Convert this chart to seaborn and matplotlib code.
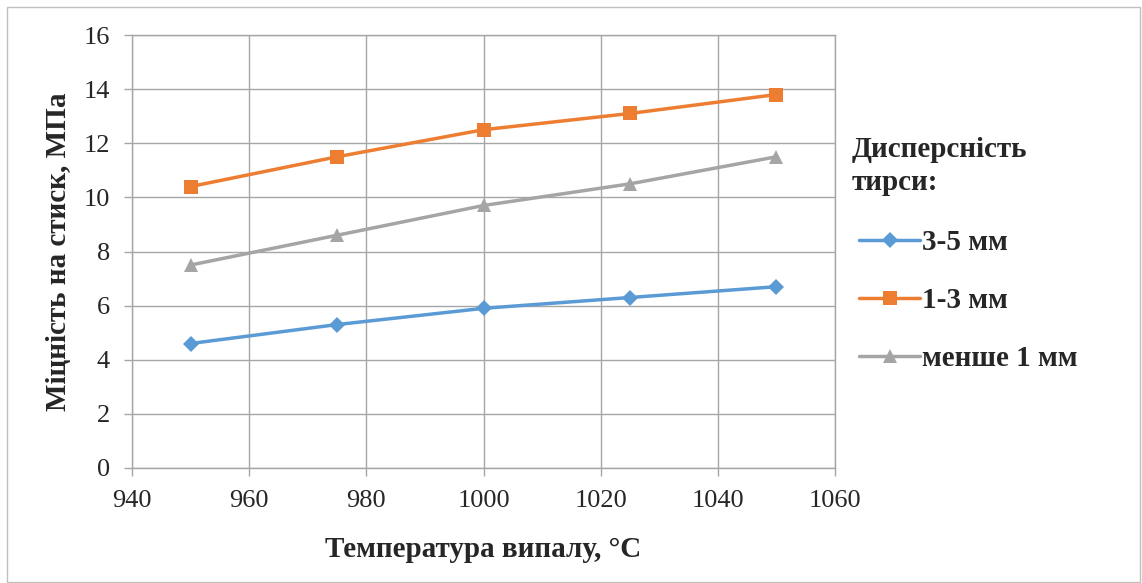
import matplotlib
matplotlib.use("Agg")
import matplotlib.pyplot as plt
import seaborn as sns
import pandas as pd
from matplotlib.patches import Rectangle
from matplotlib.lines import Line2D

temps = [950, 975, 1000, 1025, 1050]
s_35 = [4.6, 5.3, 5.9, 6.3, 6.7]
s_13 = [10.4, 11.5, 12.5, 13.1, 13.8]
s_lt1 = [7.5, 8.6, 9.7, 10.5, 11.5]
series_names = ["3-5 мм", "1-3 мм", "менше 1 мм"]
colors = ["#5B9BD5", "#ED7D31", "#A5A5A5"]
markers = ["D", "s", "^"]
msizes = [8.5, 9.5, 10.5]
x_ticks = [940, 960, 980, 1000, 1020, 1040, 1060]
y_ticks = [0, 2, 4, 6, 8, 10, 12, 14, 16]

sns.set_style("white")
plt.rcParams["font.family"] = ["Liberation Serif", "DejaVu Serif"]

W, H = 1142, 583
df = pd.DataFrame({
    "T": temps * 3,
    "v": s_35 + s_13 + s_lt1,
    "s": [series_names[0]] * 5 + [series_names[1]] * 5 + [series_names[2]] * 5,
})

fig = plt.figure(figsize=(W / 100, H / 100), dpi=100)
ax = fig.add_axes([132 / W, 1 - 468 / H, (835 - 132) / W, (468 - 35) / H])

sns.lineplot(data=df, x="T", y="v", hue="s", style="s", hue_order=series_names,
             style_order=series_names, palette=colors, markers=markers, dashes=False,
             linewidth=2.5, markersize=10, markeredgewidth=0, ax=ax, legend=False)
for line, ms in zip(ax.lines, msizes):
    line.set_markersize(ms)

ax.set_xlim(940, 1060)
ax.set_ylim(0, 16)
ax.set_xticks(x_ticks)
ax.set_yticks(y_ticks)
ax.grid(True, color="#A6A6A6", linewidth=1.0)
ax.set_axisbelow(True)
for side in ["left", "bottom", "top", "right"]:
    ax.spines[side].set_visible(True)
    ax.spines[side].set_color("#A6A6A6")
    ax.spines[side].set_linewidth(1.0)
ax.tick_params(axis="both", which="both", length=6, color="#A6A6A6", width=1.0,
               labelsize=19, direction="out", bottom=True, left=True,
               top=False, right=False)
ax.tick_params(axis="x", pad=10)
ax.tick_params(axis="y", pad=10)
ax.set_xlabel("Температура випалу, °C", fontsize=21, fontweight="bold", labelpad=17)
ax.set_ylabel("Міцність на стиск, МПа", fontsize=21, fontweight="bold", labelpad=8)

fig.text(852 / W, 1 - 136 / H, "Дисперсність\nтирси:", fontsize=21, fontweight="bold",
         ha="left", va="top", linespacing=1.3)

handles = [Line2D([0], [0], color=c, marker=m, linewidth=2.5,
                  markersize=ms, markeredgewidth=0)
           for c, m, ms in zip(colors, markers, msizes)]
fig.legend(handles, series_names, loc="upper left",
           bbox_to_anchor=(859 / W, 1 - 229 / H),
           frameon=False, prop={"size": 21, "weight": "bold"},
           handlelength=2.1, handletextpad=0.05, labelspacing=1.07,
           borderaxespad=0, borderpad=0)

fig.patches.append(Rectangle((6.5 / W, 1.5 / H), (1140 - 6.5) / W, (H - 8) / H,
                             transform=fig.transFigure, fill=False,
                             edgecolor="#BFBFBF", linewidth=1))
fig.savefig("out.png", dpi=100)
